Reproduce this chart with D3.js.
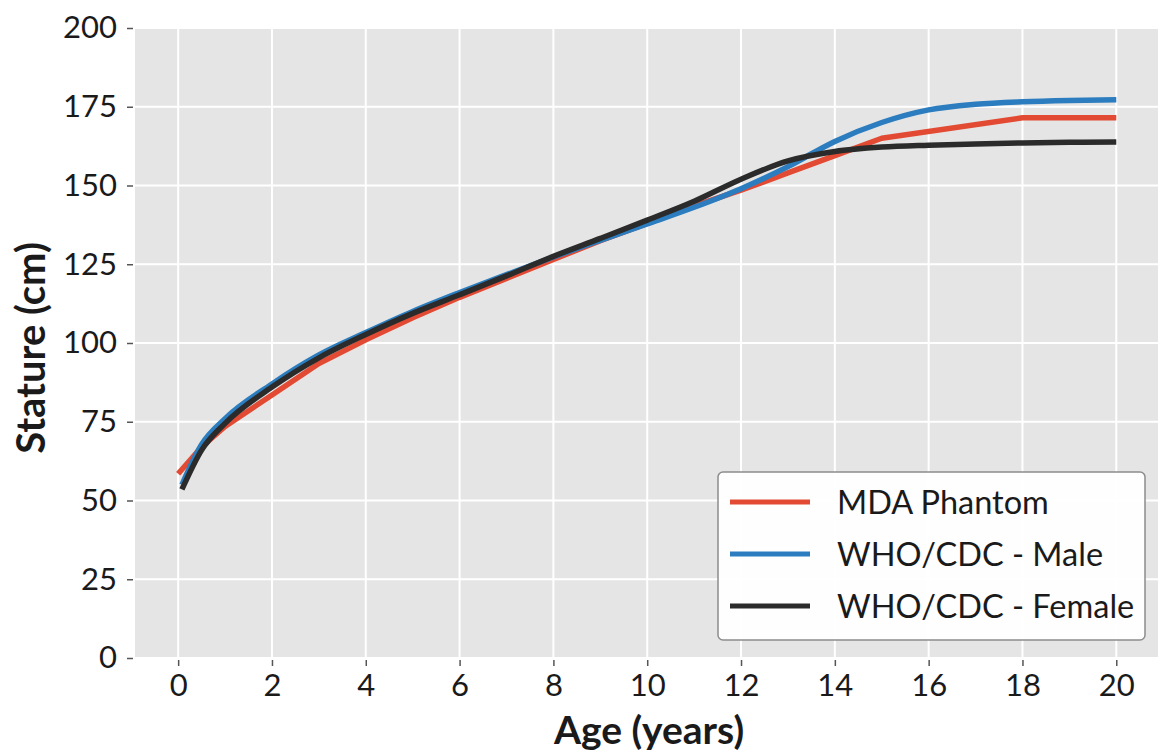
<!DOCTYPE html>
<meta charset="utf-8">
<script src="https://d3js.org/d3.v7.min.js"></script>
<div id="chart"></div>
<style>
  body { margin: 0; background: #fff; }
  text { font-family: Lato, "Open Sans", sans-serif; fill: #1a1a1a; }
</style>
<script>

// ages (years) and stature (cm)
var mdaAges = [0, 0.5, 1, 2, 3, 4, 5, 6, 7, 8, 9, 10, 11, 12, 13, 14, 15, 18, 20];
var mdaStature = [58.5, 67, 73.5, 83.5, 93.5, 101, 108, 114.5, 120.5, 126.5, 132.5, 138, 143.5, 148.5, 154, 159.5, 165, 171.5, 171.5];

var whoAges = [0.08, 0.5, 1, 2, 3, 4, 5, 6, 7, 8, 9, 10, 11, 12, 13, 14, 15, 16, 17, 18, 19, 20];
var maleStature = [55, 67.8, 76, 87, 96.2, 103.3, 110, 116, 121.7, 127.3, 132.6, 137.8, 143.1, 149, 156, 164, 170, 174, 175.8, 176.6, 177, 177.2];
var femaleStature = [53.5, 66, 74.5, 86, 95.3, 102.7, 109.4, 115.3, 121.3, 127.5, 133.2, 139, 145, 152, 157.8, 160.8, 162.2, 162.8, 163.2, 163.5, 163.7, 163.8];

var xTicks = [0, 2, 4, 6, 8, 10, 12, 14, 16, 18, 20];
var yTicks = [0, 25, 50, 75, 100, 125, 150, 175, 200];

var seriesNames = ["MDA Phantom", "WHO/CDC - Male", "WHO/CDC - Female"];
var colors = ["#E24A33", "#2B7DBF", "#2b2b2b"];

var width = 1158, height = 753;
var plot = {left: 135, right: 1163, top: 28, bottom: 658};

var svg = d3.select("#chart").append("svg")
    .attr("width", width)
    .attr("height", height);

var x = d3.scaleLinear().domain([-0.92, 20.996]).range([plot.left, plot.right]);
var y = d3.scaleLinear().domain([0, 200]).range([plot.bottom, plot.top]);

// background
svg.append("rect")
    .attr("x", plot.left).attr("y", plot.top)
    .attr("width", plot.right - plot.left).attr("height", plot.bottom - plot.top)
    .attr("fill", "#E5E5E5");

// grid
svg.append("g").selectAll("line").data(xTicks).enter().append("line")
    .attr("x1", d => x(d)).attr("x2", d => x(d))
    .attr("y1", plot.top).attr("y2", plot.bottom)
    .attr("stroke", "#fff").attr("stroke-width", 2);
svg.append("g").selectAll("line").data(yTicks).enter().append("line")
    .attr("x1", plot.left).attr("x2", plot.right)
    .attr("y1", d => y(d)).attr("y2", d => y(d))
    .attr("stroke", "#fff").attr("stroke-width", 2);

// axes
var xAxis = svg.append("g")
    .attr("transform", "translate(0," + (plot.bottom + 2) + ")")
    .call(d3.axisBottom(x).tickValues(xTicks).tickSize(6).tickPadding(8));
var yAxis = svg.append("g")
    .attr("transform", "translate(" + (plot.left - 2) + ",0)")
    .call(d3.axisLeft(y).tickValues(yTicks).tickSize(6).tickPadding(10));

[xAxis, yAxis].forEach(function(a) {
  a.select(".domain").remove();
  a.selectAll(".tick line").attr("stroke", "#555").attr("stroke-width", 1.5);
  a.selectAll(".tick text").style("font-family", "Lato, sans-serif").style("font-size", "31px").attr("fill", "#1a1a1a");
});

// axis labels
svg.append("text")
    .attr("x", (plot.left + plot.right) / 2).attr("y", 744)
    .attr("text-anchor", "middle")
    .style("font-size", "39px").style("font-weight", "bold")
    .text("Age (years)");
svg.append("text")
    .attr("transform", "translate(45," + ((plot.top + plot.bottom) / 2 + 5) + ") rotate(-90)")
    .attr("text-anchor", "middle")
    .style("font-size", "40px").style("font-weight", "bold")
    .text("Stature (cm)");

// lines
var mdaLine = d3.line().x((d, i) => x(mdaAges[i])).y(d => y(d));
var whoLine = d3.line().curve(d3.curveMonotoneX).x((d, i) => x(whoAges[i])).y(d => y(d));

var lines = svg.append("g").attr("fill", "none").attr("stroke-width", 5.5).attr("stroke-linejoin", "round");
lines.append("path").datum(mdaStature).attr("d", mdaLine).attr("stroke", colors[0]);
lines.append("path").datum(maleStature).attr("d", whoLine).attr("stroke", colors[1]);
lines.append("path").datum(femaleStature).attr("d", whoLine).attr("stroke", colors[2]);

// legend
var legend = svg.append("g");
legend.append("rect")
    .attr("x", 718).attr("y", 472).attr("width", 427).attr("height", 168)
    .attr("rx", 5).attr("fill", "#fff").attr("fill-opacity", 0.95)
    .attr("stroke", "#8c8c8c").attr("stroke-width", 1.5);
var item = legend.selectAll(".item").data(seriesNames).enter().append("g")
    .attr("transform", (d, i) => "translate(0," + (502 + i * 52) + ")");
item.append("line")
    .attr("x1", 730).attr("x2", 810)
    .attr("stroke", (d, i) => colors[i]).attr("stroke-width", 5);
item.append("text")
    .attr("x", 837).attr("y", 12)
    .style("font-size", "32.5px")
    .text(d => d);

</script>
